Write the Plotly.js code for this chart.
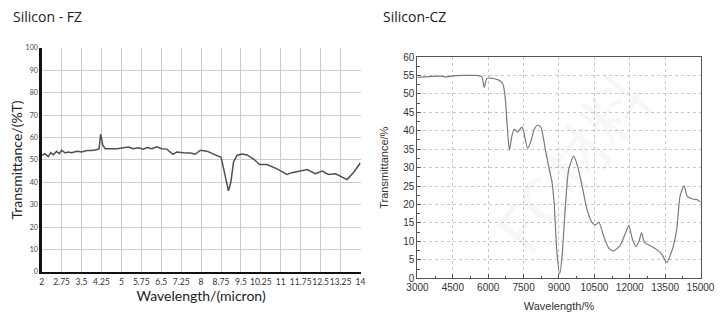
<!DOCTYPE html>
<html>
<head>
<meta charset="utf-8">
<script src="https://cdn.plot.ly/plotly-3.0.1.min.js"></script>
<style>html,body{margin:0;padding:0;background:#fff;}#chart{width:721px;height:323px;}</style>
</head>
<body>
<div id="chart"></div>
<script>
// ---- Silicon - FZ (left) ----
const fzWavelength = [2.0,2.12,2.25,2.34,2.44,2.56,2.66,2.75,2.88,3.0,3.13,3.32,3.51,3.7,3.88,4.07,4.16,4.22,4.3,4.39,4.57,4.83,5.08,5.26,5.45,5.64,5.83,5.96,6.15,6.33,6.52,6.71,6.94,7.09,7.34,7.59,7.78,7.97,8.22,8.53,8.75,8.85,8.95,9.03,9.12,9.22,9.35,9.54,9.73,9.98,10.2,10.48,10.86,11.23,11.42,11.74,11.99,12.3,12.55,12.8,13.06,13.5,13.75,14.0];
const fzTransmittance = [52,52.8,51.5,53.2,52.3,53.8,52.8,54.3,53.1,53.5,53.2,53.8,53.5,54.2,54.2,54.5,55,61.5,56.6,55,55,55,55.4,55.7,55,55.4,54.8,55.5,55,55.8,55,54.8,52.5,53.5,53.2,53.1,52.5,54.3,53.9,52.5,51.2,46,40,36.2,40,49,52,52.6,52.2,50.4,47.9,47.9,46,43.5,44.3,45,45.7,43.8,45,43.5,43.8,41.2,44.6,48.7];
const fzXTicks = [2,2.75,3.5,4.25,5,5.75,6.5,7.25,8,8.75,9.5,10.25,11,11.75,12.5,13.25,14];
const fzYTicks = [0,10,20,30,40,50,60,70,80,90,100];

// ---- Silicon-CZ (right) ----
const czWavelength = [3000,3500,4000,4240,4500,5000,5500,5730,5830,5940,6080,6430,6620,6720,6810,6900,7000,7100,7240,7430,7500,7670,7810,7950,8090,8230,8420,8560,8700,8800,8900,9030,9130,9270,9410,9620,9790,9980,10190,10410,10550,10690,10900,11110,11320,11610,11820,11960,12100,12250,12390,12500,12630,12880,13170,13380,13560,13800,13990,14130,14300,14440,14660,14870,15000];
const czTransmittance = [54.5,54.7,54.8,54.6,54.9,55,55,54.6,51.7,54.2,54.3,53.8,52.7,49,40.8,34.7,38.5,40.4,39.7,41,39.9,35.2,37.2,40.4,41.5,41,35,30.4,26.3,20,8,1.2,5.9,19.5,29.5,33.1,30.4,25,18.6,15,14.5,15.2,11.3,8.2,7.4,9.1,12.3,14.3,10.9,8.6,10,12.3,9.7,8.8,7.7,6.3,4.3,7.7,13.2,22.2,25.1,22.2,21.5,21.3,20.6];
const czXTicks = [3000,4500,6000,7500,9000,10500,12000,13500,15000];
const czYTicks = [0,5,10,15,20,25,30,35,40,45,50,55,60];

const leftFont = 'Lato, "Open Sans", sans-serif';
const rightFont = '"Liberation Sans", Arial, sans-serif';

const traces = [
  {x: fzWavelength, y: fzTransmittance, xaxis:'x', yaxis:'y', type:'scatter', mode:'lines',
   line:{color:'#505050', width:1.5}, hoverinfo:'skip'},
  {x: czWavelength, y: czTransmittance, xaxis:'x2', yaxis:'y2', type:'scatter', mode:'lines',
   line:{color:'#7a7a7a', width:1.2, shape:'spline', smoothing:0.6}, hoverinfo:'skip'}
];

const layout = {
  width:721, height:323,
  margin:{l:0, r:0, t:0, b:0},
  paper_bgcolor:'#ffffff', plot_bgcolor:'#ffffff',
  showlegend:false,
  xaxis:{
    domain:[0.0578, 0.5], anchor:'y', range:[2,14],
    tickmode:'array', tickvals:fzXTicks, ticktext:fzXTicks.map(String), tickangle:0,
    showgrid:true, gridcolor:'#cccccc', gridwidth:1, zeroline:false,
    showline:true, linecolor:'#111111', linewidth:2.5, ticks:'',
    tickfont:{family:leftFont, size:8.5, color:'#333'},
    title:{text:'Wavelength/(micron)', font:{family:leftFont, size:14, color:'#222'}, standoff:3},
    automargin:false
  },
  yaxis:{
    domain:[0.158, 0.852], anchor:'x', range:[0,100],
    tickmode:'array', tickvals:fzYTicks, ticktext:fzYTicks.map(String),
    showgrid:true, gridcolor:'#cccccc', gridwidth:1, zeroline:false,
    showline:true, linecolor:'#111111', linewidth:2.5, ticks:'',
    tickfont:{family:leftFont, size:7, color:'#444'},
    title:{text:'Transmittance/(%T)', font:{family:leftFont, size:14, color:'#222'}, standoff:0},
    automargin:false
  },
  xaxis2:{
    domain:[0.579, 0.9716], anchor:'y2', range:[3000,15000],
    tickmode:'array', tickvals:czXTicks, ticktext:czXTicks.map(String), tickangle:0,
    showgrid:true, gridcolor:'#c8c8c8', griddash:'dot', gridwidth:1, zeroline:false,
    showline:true, mirror:true, linecolor:'#555555', linewidth:1.2,
    ticks:'inside', ticklen:4, tickcolor:'#555',
    minor:{ticks:'inside', dtick:750, tick0:3000, ticklen:2.5, tickcolor:'#555', showgrid:false},
    tickfont:{family:rightFont, size:10, color:'#333'},
    title:{text:'Wavelength/%', font:{family:rightFont, size:11, color:'#333'}, standoff:9},
    automargin:false
  },
  yaxis2:{
    domain:[0.1384, 0.8235], anchor:'x2', range:[0,60],
    tickmode:'array', tickvals:czYTicks, ticktext:czYTicks.map(String),
    showgrid:true, gridcolor:'#c8c8c8', griddash:'dot', gridwidth:1, zeroline:false,
    showline:true, mirror:true, linecolor:'#555555', linewidth:1.2,
    ticks:'inside', ticklen:4, tickcolor:'#555',
    minor:{ticks:'inside', dtick:2.5, tick0:0, ticklen:2.5, tickcolor:'#555', showgrid:false},
    tickfont:{family:rightFont, size:10, color:'#333'},
    title:{text:'Transmittance/%', font:{family:rightFont, size:11, color:'#333'}, standoff:12},
    automargin:false
  },
  annotations:[
    {text:'Silicon - FZ', xref:'paper', yref:'paper', x:11/721, y:1-16/323, xanchor:'left', yanchor:'middle',
     showarrow:false, font:{family:'"Open Sans", sans-serif', size:14, color:'#222'}},
    {text:'Silicon-CZ', xref:'paper', yref:'paper', x:381/721, y:1-16/323, xanchor:'left', yanchor:'middle',
     showarrow:false, font:{family:'"Open Sans", sans-serif', size:14, color:'#222'}},
    {text:'FC材料', xref:'paper', yref:'paper', x:0.79, y:0.5, xanchor:'center', yanchor:'middle',
     showarrow:false, textangle:-52, font:{family:'"Noto Sans CJK SC", sans-serif', size:64, color:'rgba(120,120,120,0.06)'}}
  ]
};

Plotly.newPlot('chart', traces, layout, {staticPlot:true, displayModeBar:false});
</script>
</body>
</html>
